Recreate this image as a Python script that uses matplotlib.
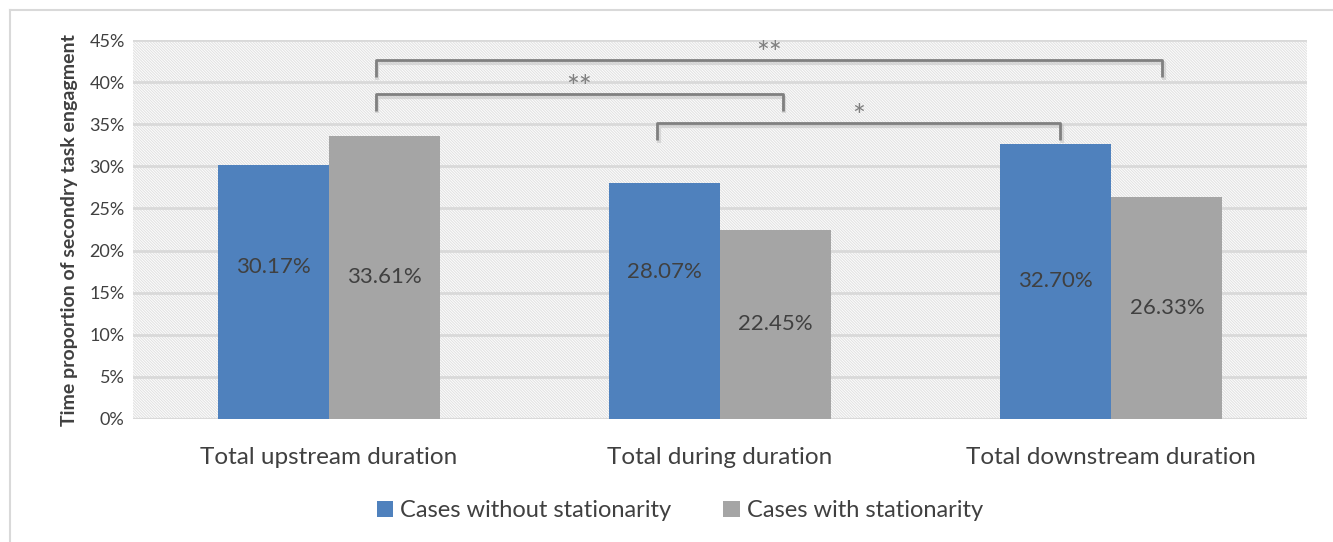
import matplotlib.pyplot as plt
import numpy as np
from matplotlib.patches import Rectangle
from matplotlib.lines import Line2D

plt.rcParams['font.family'] = ['Lato', 'DejaVu Sans']
plt.rcParams['hatch.linewidth'] = 0.8
plt.rcParams['hatch.color'] = '#e2e2e2'

# Data
categories = ['Total upstream duration', 'Total during duration', 'Total downstream duration']
without_stat = [30.17, 28.07, 32.70]
with_stat = [33.61, 22.45, 26.33]
series_names = ['Cases without stationarity', 'Cases with stationarity']
# significance brackets: (x start, x end, level, mark)
brackets = [(0.12, 2.13, 42.6, '**'),
            (0.12, 1.16, 38.6, '**'),
            (0.84, 1.87, 35.1, '*')]

blue = '#4f81bd'
grey = '#a5a5a5'
txt = '#404040'

fig = plt.figure(figsize=(13.33, 5.42), dpi=100)
ax = fig.add_axes([0.0998, 0.227, 0.8807, 0.699])

# outer chart frame
fig.add_artist(Line2D([0.0075, 0.0075], [0, 0.982], color='#d9d9d9', lw=1.5,
                      transform=fig.transFigure))
fig.add_artist(Line2D([0.0075, 1.0], [0.982, 0.982], color='#d9d9d9', lw=1.5,
                      transform=fig.transFigure))

# hatched plot area
ax.add_patch(Rectangle((0, 0), 1, 1, transform=ax.transAxes, facecolor='white',
                       edgecolor='#e2e2e2', hatch='\\' * 12, lw=0, zorder=0))

x = np.arange(len(categories))
w = 0.284
ax.bar(x - w / 2, without_stat, w, color=blue, label=series_names[0], zorder=3)
ax.bar(x + w / 2, with_stat, w, color=grey, label=series_names[1], zorder=3)

# value labels (first two blue labels were moved up in the original)
label_y_blue = [18.1, 17.4, 32.70 / 2]
for i in range(len(categories)):
    ax.text(x[i] - w / 2, label_y_blue[i], f'{without_stat[i]:.2f}%', ha='center',
            va='center', fontsize=16, color=txt, zorder=4)
    ax.text(x[i] + w / 2, with_stat[i] / 2, f'{with_stat[i]:.2f}%', ha='center',
            va='center', fontsize=16, color=txt, zorder=4)

# significance brackets
for x0, x1, lvl, mark in brackets:
    drop = 2.0
    for dx, dy, col, lw, a in [(0.004, -0.3, '#bfbfbf', 3, 0.5), (0, 0, '#808080', 2, 1)]:
        ax.plot([x0 + dx, x0 + dx, x1 + dx, x1 + dx],
                [lvl - drop + dy, lvl + dy, lvl + dy, lvl - drop + dy],
                color=col, lw=lw, alpha=a, zorder=5, solid_capstyle='butt')
    ax.text((x0 + x1) / 2, lvl - 0.9, mark, ha='center', va='bottom', fontsize=22,
            color='#7f7f7f', zorder=6)

ax.set_xlim(-0.5, 2.5)
ax.set_ylim(0, 45)
ax.set_yticks(np.arange(0, 46, 5))
ax.set_yticklabels([f'{v}%' for v in range(0, 46, 5)], fontsize=13, color=txt)
ax.set_xticks(x)
ax.set_xticklabels(categories, fontsize=17.5, color=txt)
ax.tick_params(axis='both', length=0)
ax.tick_params(axis='x', pad=20)
ax.tick_params(axis='y', pad=6)
ax.grid(axis='y', color='#d9d9d9', lw=2, zorder=1)
ax.set_axisbelow(True)
for s in ax.spines.values():
    s.set_visible(False)
ax.axhline(0, color='#d9d9d9', lw=1.5, zorder=2)
ax.set_ylabel('Time proportion of secondry task engagment', fontsize=14,
              fontweight='bold', color=txt, labelpad=8)

fig.legend(loc='center', bbox_to_anchor=(0.51, 0.058), ncol=2, frameon=False,
           fontsize=17, handlelength=0.7, handleheight=0.7, handletextpad=0.3,
           columnspacing=2.2, labelcolor=txt)

fig.savefig('out.png', dpi=100)
